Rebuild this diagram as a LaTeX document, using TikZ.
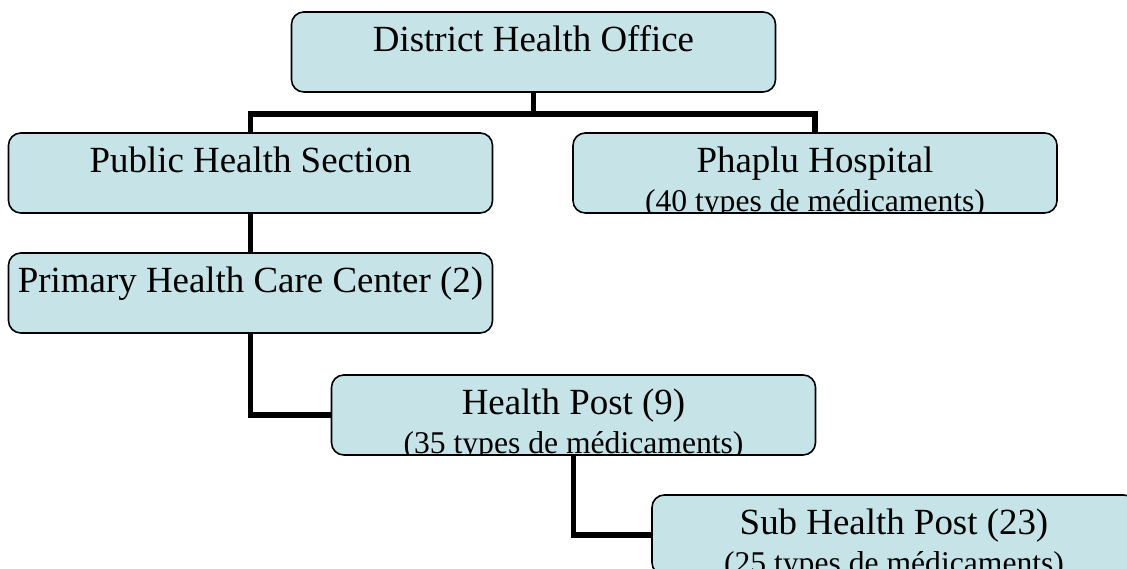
\documentclass[tikz,border=0pt]{standalone}
\usepackage{fontspec}
\setmainfont{Liberation Serif}
\usetikzlibrary{calc}
\definecolor{cBox}{HTML}{C6E4E8}
\definecolor{cInk}{HTML}{000000}
\tikzset{
  link/.style={line width=3.2pt,draw=cInk},
  unit/.style={rounded corners=7pt,draw=cInk,fill=cBox,line width=0.9pt,
               minimum width=9.68cm,inner xsep=0pt,inner ysep=0pt,
               text height=0.8cm,text depth=0.8cm,font=\fontsize{21}{25}\selectfont},
  stock/.style={path picture={
      \node[anchor=base,text height=,text depth=,minimum width=0pt,
            font=\fontsize{18}{22}\selectfont]
        at ([yshift=-1.57cm]path picture bounding box.north) {#1};}}
}
\begin{document}
\begin{tikzpicture}
  \clip (0,0) rectangle (22.54,11.38);

  % Top: office and its two branches.
  \node[unit] (dho) at (10.67,10.34) {District Health Office};
  \node[unit] (phs) at (5.01,7.92) {Public Health Section};
  \node[unit,stock={(40 types de médicaments)}] (php) at (16.30,7.92) {Phaplu Hospital};
  \draw[link] (dho.south) -- ++(0,-4.2mm) coordinate (split);
  \draw[link] (phs.north) |- (split) -| (php.north);

  % Below: the public health chain.
  \node[unit] (phcc) at (5.01,5.52) {Primary Health Care Center (2)};
  \node[unit,stock={(35 types de médicaments)}] (hp) at (11.47,3.08) {Health Post (9)};
  \node[unit,stock={(25 types de médicaments)}] (shp) at (17.88,0.68) {Sub Health Post (23)};
  \draw[link] (phs.south) -- (phcc.north);
  \draw[link] (phcc.south) |- (hp.west);
  \draw[link] (hp.south) |- (shp.west);
\end{tikzpicture}
\end{document}
